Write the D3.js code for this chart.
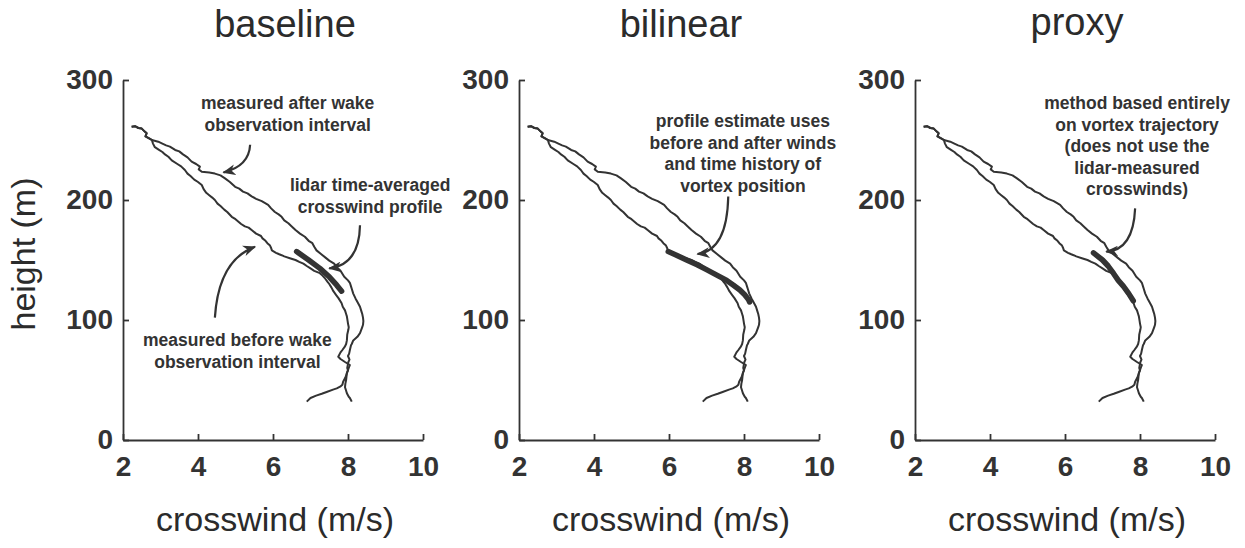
<!DOCTYPE html>
<html>
<head>
<meta charset="utf-8">
<script src="https://cdn.jsdelivr.net/npm/d3@7"></script>
<style>
  body { margin: 0; background: #fff; }
  svg { display: block; font-family: "Liberation Sans", Arial, sans-serif; }
  .axis path, .axis line { stroke: #333; stroke-width: 1.8; }
  .axis text { fill: #333; font-size: 28px; font-weight: bold; font-family: "Liberation Sans", Arial, sans-serif; }
  .profile { fill: none; stroke: #333; stroke-width: 2; stroke-linejoin: round; }
  .estimate { fill: none; stroke: #333; stroke-width: 5.5; stroke-linecap: round; stroke-linejoin: round; }
  .note { fill: #333; font-size: 17.5px; font-weight: bold; text-anchor: middle; }
  .arrow { fill: none; stroke: #333; stroke-width: 2.2; }
  .title { fill: #2b2b2b; font-size: 38px; text-anchor: middle; }
  .label { fill: #2b2b2b; font-size: 34px; text-anchor: middle; }
</style>
</head>
<body>
<div class="profileGraph"></div>
<script>
// chart values, [crosswind (m/s), height (m)]
let panelTitles = ['baseline', 'bilinear', 'proxy'];
let xTicks = [2, 4, 6, 8, 10];
let yTicks = [0, 100, 200, 300];

let profileTop = [[2.23, 261], [2.32, 261.5], [2.41, 260], [2.5, 259.5], [2.58, 257], [2.63, 255.6],
  [2.6, 253], [2.72, 251], [2.77, 250]];

let afterWake = [[2.94, 248.6], [3.05, 247], [3.15, 245.5], [3.25, 244.5], [3.39, 241.7], [3.5, 240.5],
  [3.6, 238], [3.72, 235.5], [3.83, 232], [3.95, 230], [4.05, 227.8], [4.02, 225.5], [4.1, 223.6],
  [4.3, 223], [4.45, 222], [4.6, 220.5], [4.72, 218], [4.85, 215], [4.99, 211], [5.1, 209.5],
  [5.2, 207], [5.32, 205.5], [5.43, 203], [5.55, 201], [5.7, 199], [5.87, 196], [5.95, 193],
  [6.05, 190], [6.15, 188], [6.23, 186], [6.3, 183], [6.41, 180.6], [6.5, 178], [6.6, 175],
  [6.72, 172], [6.85, 169.4], [6.95, 166], [7.05, 164], [7.1, 161], [7.16, 158], [7.28, 155],
  [7.4, 152], [7.5, 149.5], [7.63, 147], [7.7, 144], [7.8, 141], [7.85, 138.5], [7.9, 136],
  [8.0, 133], [8.05, 131], [8.08, 128], [8.1, 126], [8.14, 122], [8.2, 118], [8.27, 114],
  [8.32, 111], [8.36, 107], [8.38, 105], [8.4, 102], [8.41, 99], [8.4, 96], [8.38, 94],
  [8.32, 89], [8.25, 86], [8.14, 83], [8.1, 80], [8.08, 79], [8.05, 75], [8.03, 72], [8.0, 70],
  [8.04, 67], [8.01, 65], [7.98, 60], [8.0, 58], [7.97, 56], [7.95, 50], [7.93, 47], [7.92, 44],
  [7.95, 41], [7.97, 39], [8.02, 36], [8.05, 35], [8.1, 32]];

let beforeWake = [[2.8, 247], [2.85, 244], [2.95, 242], [3.05, 240], [3.12, 238], [3.21, 236],
  [3.3, 233], [3.45, 230], [3.55, 228], [3.65, 225], [3.72, 222], [3.8, 220], [3.9, 217],
  [4.0, 215], [4.1, 212.5], [4.15, 209], [4.22, 206], [4.3, 204], [4.38, 202], [4.45, 200],
  [4.52, 197], [4.6, 195], [4.7, 192], [4.78, 190], [4.9, 186], [5.0, 184], [5.15, 180],
  [5.25, 178], [5.35, 177], [5.43, 175], [5.55, 172], [5.68, 170], [5.72, 168], [5.8, 166],
  [5.85, 164], [5.92, 162], [5.95, 160], [5.97, 158], [6.08, 156], [6.15, 155], [6.23, 154],
  [6.3, 153], [6.45, 151.5], [6.6, 150], [6.7, 148.5], [6.81, 147], [6.9, 145], [7.0, 143],
  [7.1, 141], [7.25, 139], [7.32, 137], [7.38, 135], [7.45, 132], [7.5, 130], [7.56, 127],
  [7.61, 124], [7.68, 121], [7.75, 118], [7.83, 114], [7.86, 111], [7.92, 108], [7.95, 105],
  [7.97, 103], [7.99, 99], [8.0, 97], [8.02, 94], [8.01, 92], [7.98, 88], [7.97, 83],
  [7.95, 80], [7.92, 78], [7.85, 75], [7.8, 73], [7.74, 69.4], [7.8, 67.5], [7.92, 65],
  [8.05, 62.5], [8.02, 60], [7.97, 55.6], [7.93, 52], [7.87, 48.6], [7.85, 46], [7.79, 44.4],
  [7.7, 43], [7.6, 42], [7.43, 40], [7.3, 38.5], [7.15, 37], [7.0, 35], [6.9, 32]];

let baselineEstimate = [[6.63, 157], [6.95, 150], [7.25, 143], [7.5, 136], [7.7, 129], [7.83, 124]];
let bilinearEstimate = [[5.98, 157], [6.2, 154], [6.47, 150], [6.75, 146], [7.0, 142], [7.3, 137],
  [7.54, 133], [7.72, 129], [7.89, 125], [8.02, 121], [8.12, 117], [8.15, 115]];
let proxyEstimate = [[6.76, 156], [7.0, 150], [7.15, 145], [7.29, 139], [7.42, 133], [7.56, 128],
  [7.7, 122], [7.82, 116]];

let estimates = [baselineEstimate, bilinearEstimate, proxyEstimate];

// annotation text per panel
let panelNotes = [
  [
    { lines: ['measured after wake', 'observation interval'], x: 6.39, h: 275.8 },
    { lines: ['lidar time-averaged', 'crosswind profile'], x: 8.59, h: 207.5 },
    { lines: ['measured before wake', 'observation interval'], x: 5.05, h: 78.3 }
  ],
  [
    { lines: ['profile estimate uses', 'before and after winds', 'and time history of', 'vortex position'], x: 7.97, h: 260.8 }
  ],
  [
    { lines: ['method based entirely', 'on vortex trajectory', '(does not use the', 'lidar-measured', 'crosswinds)'], x: 7.92, h: 275.8 }
  ]
];

let panelArrows = [
  [
    { from: [5.39, 246], ctrl: [5.36, 228], to: [4.68, 223] },
    { from: [8.32, 179], ctrl: [8.3, 146], to: [7.5, 143] },
    { from: [4.45, 102], ctrl: [4.55, 150], to: [5.52, 161] }
  ],
  [
    { from: [7.58, 203], ctrl: [7.55, 158], to: [6.76, 155] }
  ],
  [
    { from: [7.87, 193], ctrl: [7.82, 158], to: [7.1, 157] }
  ]
];

function drawProfiles(d3) {

  let width = 1245;
  let height = 548;
  let plot = { top: 80, left: 123, width: 300, height: 360, gap: 396 };
  let lineHeight = 21.5;

  let svg = d3.select('.profileGraph')
    .append('svg')
    .attr('width', width)
    .attr('height', height)
    .attr('viewBox', '0 0 ' + width + ' ' + height);

  svg.append('defs').append('marker')
    .attr('id', 'head')
    .attr('viewBox', '0 0 12 10')
    .attr('refX', 11)
    .attr('refY', 5)
    .attr('markerWidth', 13)
    .attr('markerHeight', 11)
    .attr('markerUnits', 'userSpaceOnUse')
    .attr('orient', 'auto')
    .append('path')
    .attr('d', 'M0,0 L12,5 L0,10 L3.5,5 Z')
    .attr('fill', '#333');

  let xScale = d3.scaleLinear().domain([2, 10]).range([0, plot.width]);
  let yScale = d3.scaleLinear().domain([0, 300]).range([plot.height, 0]);

  let line = d3.line()
    .x(function(d) { return xScale(d[0]); })
    .y(function(d) { return yScale(d[1]); });

  panelTitles.forEach(function(title, i) {
    let g = svg.append('g')
      .attr('transform', 'translate(' + (plot.left + i * plot.gap) + ',' + plot.top + ')');

    g.append('g')
      .attr('class', 'axis')
      .attr('transform', 'translate(0,' + plot.height + ')')
      .call(d3.axisBottom(xScale).tickValues(xTicks).tickSizeInner(-6).tickSizeOuter(0).tickPadding(16));

    g.append('g')
      .attr('class', 'axis')
      .call(d3.axisLeft(yScale).tickValues(yTicks).tickSizeInner(-6).tickSizeOuter(0).tickPadding(10));

    g.selectAll('.axis').attr('font-size', null).attr('font-family', null);

    // measured before / after profiles
    g.append('path')
      .attr('class', 'profile')
      .attr('d', line(profileTop.concat(afterWake)));

    g.append('path')
      .attr('class', 'profile')
      .attr('d', line(profileTop.concat(beforeWake)));

    g.append('path')
      .attr('class', 'estimate')
      .attr('d', line(estimates[i]));

    panelArrows[i].forEach(function(a) {
      let p = d3.path();
      p.moveTo(xScale(a.from[0]), yScale(a.from[1]));
      p.quadraticCurveTo(xScale(a.ctrl[0]), yScale(a.ctrl[1]), xScale(a.to[0]), yScale(a.to[1]));
      g.append('path')
        .attr('class', 'arrow')
        .attr('d', p.toString())
        .attr('marker-end', 'url(#head)');
    });

    panelNotes[i].forEach(function(n) {
      let t = g.append('text')
        .attr('class', 'note')
        .attr('x', xScale(n.x))
        .attr('y', yScale(n.h));
      n.lines.forEach(function(s, k) {
        t.append('tspan')
          .attr('x', xScale(n.x))
          .attr('dy', k === 0 ? 0 : lineHeight)
          .text(s);
      });
    });

    // title sits a little higher when it has descenders
    let drop = /[gjpqy]/.test(title) ? 2 : 0;
    g.append('text')
      .attr('class', 'title')
      .attr('x', plot.width / 2 + 12)
      .attr('y', 37 - drop - plot.top)
      .text(title);

    g.append('text')
      .attr('class', 'label')
      .attr('x', plot.width / 2 + 2)
      .attr('y', 531 - plot.top)
      .text('crosswind (m/s)');
  });

  svg.append('text')
    .attr('class', 'label')
    .attr('font-size', '30px')
    .attr('transform', 'translate(35,254) rotate(-90)')
    .text('height (m)');
}

drawProfiles(d3);
</script>
</body>
</html>
